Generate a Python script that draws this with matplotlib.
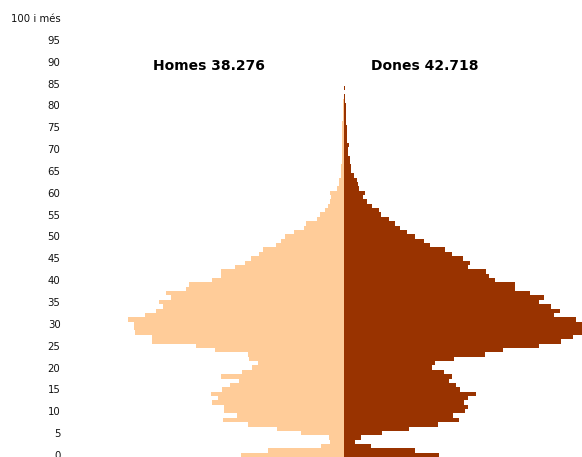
import matplotlib
matplotlib.use("Agg")
import matplotlib.pyplot as plt
import numpy as np

# Age groups 0..100 ("100 i més" = 100 and over)
ages = list(range(101))
ytick_ages = list(range(0, 101, 5))
ytick_labels = [str(a) for a in range(0, 100, 5)] + ["100 i més"]

# Population by single year of age
homes = [605, 446, 135, 82, 88, 252, 393, 564, 710, 628,
         704, 704, 775, 740, 781, 716, 669, 616, 722, 599,
         540, 505, 558, 564, 757, 869, 1127, 1127, 1227, 1233,
         1233, 1268, 1168, 1104, 1062, 1086, 1016, 1045, 927, 910,
         775, 722, 722, 640, 581, 546, 499, 475, 399, 370,
         346, 294, 235, 223, 158, 141, 112, 94, 82, 76,
         82, 41, 29, 29, 18, 18, 18, 12, 12, 12,
         12, 12, 12, 12, 12, 12, 12, 6, 6, 6,
         6, 6, 0, 0, 0, 0, 0, 0, 0, 0,
         0, 0, 0, 0, 0, 0, 0, 0, 0, 0, 0]

dones = [558, 417, 158, 65, 100, 223, 382, 552, 675, 640,
         710, 728, 704, 728, 775, 681, 657, 616, 634, 587,
         517, 534, 646, 828, 933, 1145, 1274, 1344, 1409, 1438,
         1409, 1362, 1233, 1268, 1215, 1145, 1174, 1092, 1004, 1004,
         886, 851, 834, 728, 740, 699, 634, 593, 505, 470,
         417, 370, 329, 299, 264, 217, 205, 164, 135, 112,
         123, 88, 82, 76, 59, 41, 41, 35, 35, 23,
         23, 29, 18, 18, 18, 18, 12, 12, 12, 12,
         12, 6, 6, 2, 6, 0, 0, 0, 0, 0,
         0, 0, 0, 0, 0, 0, 0, 0, 0, 0, 0]

label_homes = "Homes 38.276"
label_dones = "Dones 42.718"

color_homes = "#FFCC99"
color_dones = "#993300"

W, H = 582, 457
fig = plt.figure(figsize=(W / 100, H / 100), dpi=100)
fig.patch.set_facecolor("white")

ax_left_px = 66
ax = fig.add_axes([ax_left_px / W, 0, (W - ax_left_px) / W, 1])

ax.barh(ages, [-v for v in homes], height=1.0, color=color_homes,
        linewidth=0, antialiased=False)
ax.barh(ages, dones, height=1.0, color=color_dones,
        linewidth=0, antialiased=False)

ax.set_xlim(-1632, 1397)
ax.set_ylim(-0.46, 104.12)

ax.set_yticks(ytick_ages)
ax.set_yticklabels(ytick_labels, fontsize=7.3, family="DejaVu Sans", color="#111111")
ax.tick_params(axis="y", length=0, pad=4)
ax.set_xticks([])
for s in ax.spines.values():
    s.set_visible(False)

fig.text(208.5 / W, 1 - 66 / H, label_homes, ha="center", va="center",
         fontsize=10, fontweight="bold", family="DejaVu Sans", color="black")
fig.text(424.5 / W, 1 - 66 / H, label_dones, ha="center", va="center",
         fontsize=10, fontweight="bold", family="DejaVu Sans", color="black")

fig.savefig("out.png", dpi=100)
